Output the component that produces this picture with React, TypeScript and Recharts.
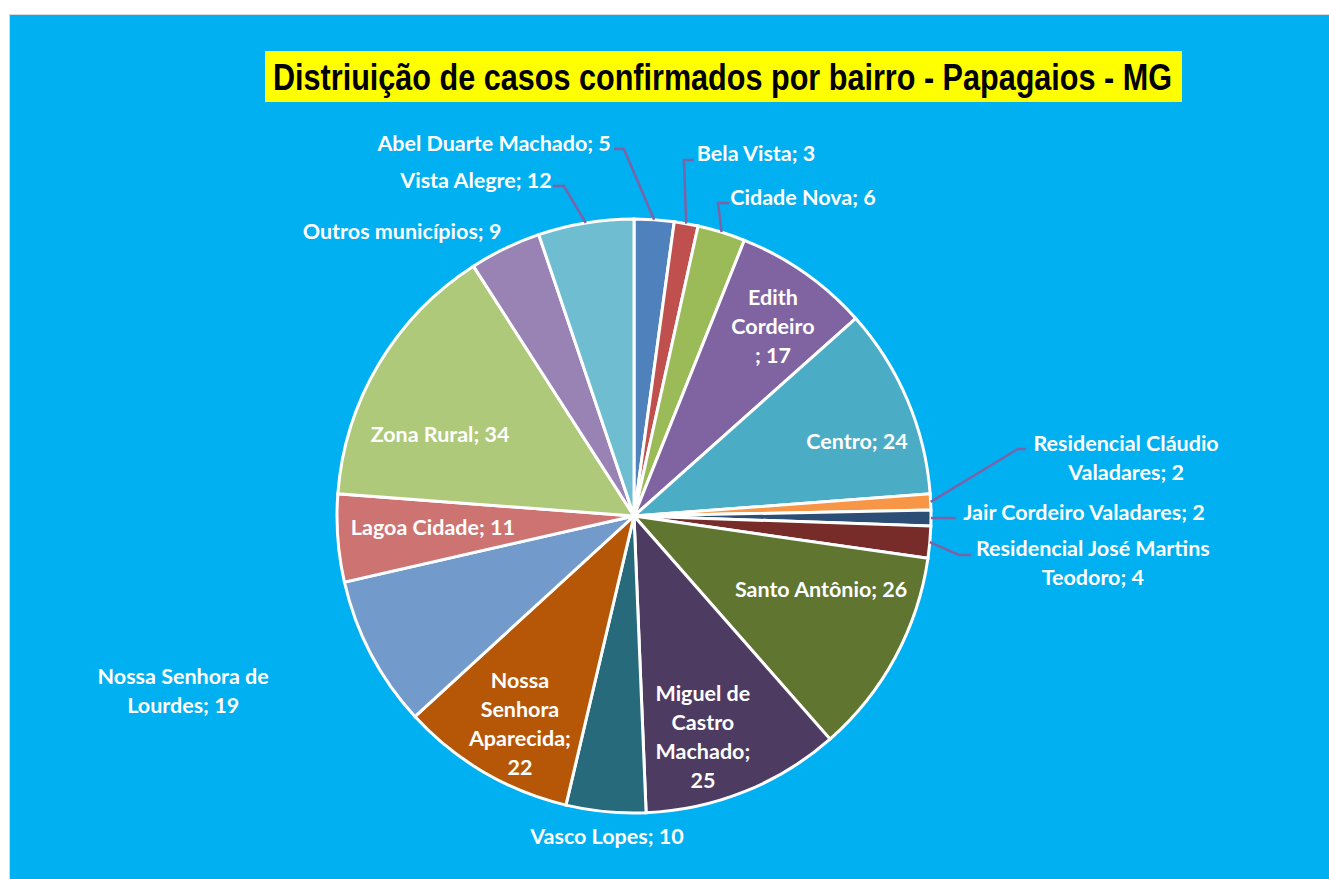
import { PieChart, Pie, Cell } from 'recharts'

const bairros = [
  'Abel Duarte Machado',
  'Bela Vista',
  'Cidade Nova',
  'Edith Cordeiro',
  'Centro',
  'Residencial Cláudio Valadares',
  'Jair Cordeiro Valadares',
  'Residencial José Martins Teodoro',
  'Santo Antônio',
  'Miguel de Castro Machado',
  'Vasco Lopes',
  'Nossa Senhora Aparecida',
  'Nossa Senhora de Lourdes',
  'Lagoa Cidade',
  'Zona Rural',
  'Outros municípios',
  'Vista Alegre',
]

const casos = [5, 3, 6, 17, 24, 2, 2, 4, 26, 25, 10, 22, 19, 11, 34, 9, 12]

const colors = [
  '#4F81BD', '#C0504D', '#9BBB59', '#8064A2', '#4BACC6', '#F79646',
  '#2C4D75', '#772C2A', '#5F7530', '#4D3B62', '#276A7C', '#B65708',
  '#729ACA', '#CD7371', '#AFC97A', '#9983B5', '#6FBDD1',
]

const title = 'Distriuição de casos confirmados por bairro - Papagaios - MG'

// label placement, in units of the pie radius, relative to the centre
type Layout = { tx: number; ty: number; breaks?: number[]; lead?: [number, number][] }
const labelLayout: Layout[] = [
  { tx: -0.471, ty: -1.256, lead: [[-0.067, -1.236], [-0.034, -1.236]] },
  { tx: 0.411, ty: -1.222, lead: [[0.202, -1.199], [0.168, -1.199]] },
  { tx: 0.569, ty: -1.074, lead: [[0.32, -1.054], [0.283, -1.054]] },
  { tx: 0.468, ty: -0.64, breaks: [5, 14] },
  { tx: 0.751, ty: -0.253 },
  { tx: 1.657, ty: -0.195, breaks: [19], lead: [[1.32, -0.226], [1.293, -0.226]] },
  { tx: 1.515, ty: -0.013, lead: [[1.084, 0.007]] },
  { tx: 1.545, ty: 0.157, breaks: [24], lead: [[1.135, 0.131], [1.094, 0.131]] },
  { tx: 0.63, ty: 0.246 },
  { tx: 0.232, ty: 0.742, breaks: [9, 16, 25] },
  { tx: -0.091, ty: 1.077 },
  { tx: -0.384, ty: 0.699, breaks: [5, 13, 24] },
  { tx: -1.518, ty: 0.588, breaks: [16] },
  { tx: -0.677, ty: 0.037 },
  { tx: -0.653, ty: -0.276 },
  { tx: -0.781, ty: -0.96 },
  { tx: -0.532, ty: -1.131, lead: [[-0.273, -1.111], [-0.236, -1.111]] },
]

const data = bairros.map((name, i) => ({ name, value: casos[i] }))

const RAD = Math.PI / 180
const LINE_H = 29
const FONT = 21.5

const renderLabel = (props: any) => {
  const { cx, cy, midAngle, outerRadius, index, name, value } = props
  const lay = labelLayout[index]
  const text = `${name}; ${value}`
  const cuts = [0, ...(lay.breaks || []), text.length]
  const lines: string[] = []
  for (let k = 0; k < cuts.length - 1; k++) lines.push(text.slice(cuts[k], cuts[k + 1]).trim())

  const x = cx + lay.tx * outerRadius
  const y = cy + lay.ty * outerRadius
  // baseline of the first line, so caps sit centred on the layout point
  const y0 = y - ((lines.length - 1) * LINE_H) / 2 + FONT * 0.36

  let leader = null
  if (lay.lead) {
    const ex = cx + outerRadius * Math.cos(-midAngle * RAD)
    const ey = cy + outerRadius * Math.sin(-midAngle * RAD)
    const pts = lay.lead.map(([px, py]) => `${cx + px * outerRadius},${cy + py * outerRadius}`)
    leader = (
      <polyline
        points={[...pts, `${ex},${ey}`].join(' ')}
        fill="none"
        stroke="#7E62A8"
        strokeWidth={2.5}
      />
    )
  }

  return (
    <g key={`lbl-${index}`}>
      {leader}
      <text
        x={x}
        y={y0}
        textAnchor="middle"
        fill="#fff"
        fontFamily="Lato, 'Open Sans', sans-serif"
        fontWeight={700}
        fontSize={FONT}
      >
        {lines.map((l, k) => (
          <tspan key={k} x={x} y={y0 + k * LINE_H}>
            {l}
          </tspan>
        ))}
      </text>
    </g>
  )
}

export default function App() {
  return (
    <div style={{ position: 'absolute', left: 0, top: 0, width: 1329, height: 879, background: '#fff', overflow: 'hidden' }}>
      <div
        style={{
          position: 'absolute',
          left: 9,
          top: 14,
          width: 1320,
          height: 865,
          background: '#00B0F0',
          borderLeft: '1px solid #D9D9D9',
          borderTop: '1px solid #D9D9D9',
          boxSizing: 'border-box',
        }}
      >
        <PieChart width={1319} height={864}>
          <Pie
            data={data}
            dataKey="value"
            nameKey="name"
            cx={619}
            cy={496}
            outerRadius={297}
            startAngle={90}
            endAngle={-270}
            stroke="#fff"
            strokeWidth={3}
            label={renderLabel}
            labelLine={false}
            isAnimationActive={false}
          >
            {data.map((d, i) => (
              <Cell key={d.name} fill={colors[i]} />
            ))}
          </Pie>
        </PieChart>
      </div>
      <svg style={{ position: 'absolute', left: 265, top: 51 }} width={917} height={51}>
        <rect x={0} y={0} width={917} height={51} fill="#FFFF00" />
        <text
          transform="translate(8,39) scale(1,1.21)"
          x={0}
          y={0}
          textLength={899}
          lengthAdjust="spacingAndGlyphs"
          fontFamily="'Liberation Sans', Arial, sans-serif"
          fontWeight={700}
          fontSize={30.5}
          fill="#000"
        >
          {title}
        </text>
      </svg>
    </div>
  )
}
